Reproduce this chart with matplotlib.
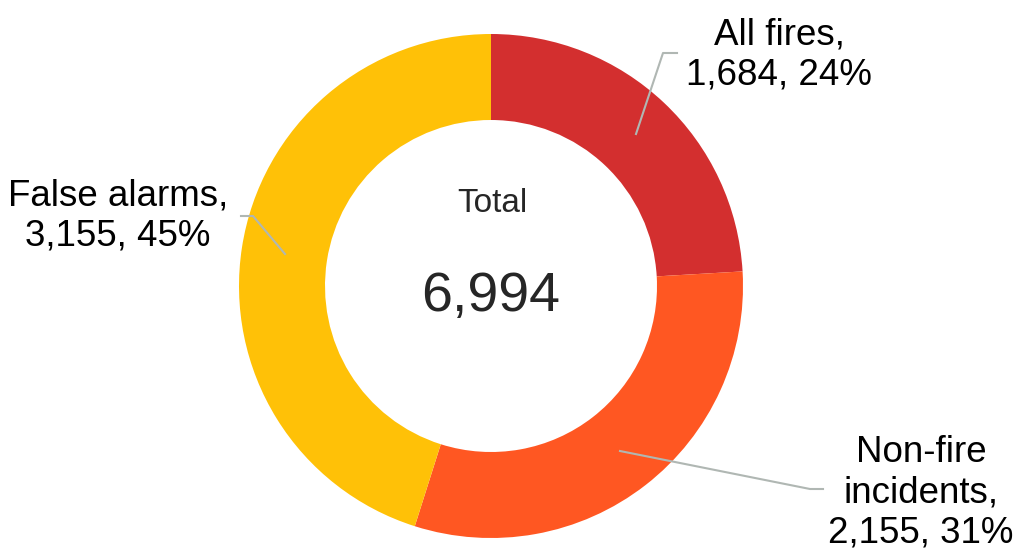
import matplotlib.pyplot as plt

# incident types and counts
labels = ['All fires', 'Non-fire\nincidents', 'False alarms']
counts = [1684, 2155, 3155]
colors = ['#D32F2F', '#FF5722', '#FFC107']

W, H = 1022, 552
total = sum(counts)

plt.rcParams['font.family'] = ['Liberation Sans', 'DejaVu Sans']

fig = plt.figure(figsize=(W / 100, H / 100), dpi=100)
ax = fig.add_axes([0, 0, 1, 1])

cx, cy, r = 491, H - 286, 252
ax.pie(counts, colors=colors, startangle=90, counterclock=False,
       center=(cx, cy), radius=r, frame=True,
       wedgeprops=dict(width=r - 166, linewidth=0))
ax.set_xlim(0, W)
ax.set_ylim(0, H)
ax.set_aspect('equal')
ax.axis('off')

# centre text
ax.text(492, H - 203, 'Total', ha='center', va='center', fontsize=24, color='#262626')
ax.text(491, H - 297, f'{total:,}', ha='center', va='center', fontsize=40, color='#262626')

# labels with leader lines (pixel positions, y from top)
label_pos = [(779, 55), (921, 493), (118, 216)]
leaders = [
    [(636, 134), (663, 53), (677, 53)],
    [(620, 451), (810, 489), (823, 489)],
    [(285, 254), (253, 216), (241, 216)],
]
for lab, n, (tx, ty), pts in zip(labels, counts, label_pos, leaders):
    pct = round(100 * n / total)
    ax.text(tx, H - ty, f'{lab},\n{n:,}, {pct}%', ha='center', va='center',
            fontsize=26.5, color='black', linespacing=1.2)
    xs = [p[0] for p in pts]
    ys = [H - p[1] for p in pts]
    ax.plot(xs, ys, color='#B0B7B3', lw=1.5)

fig.savefig('out.png', dpi=100)
